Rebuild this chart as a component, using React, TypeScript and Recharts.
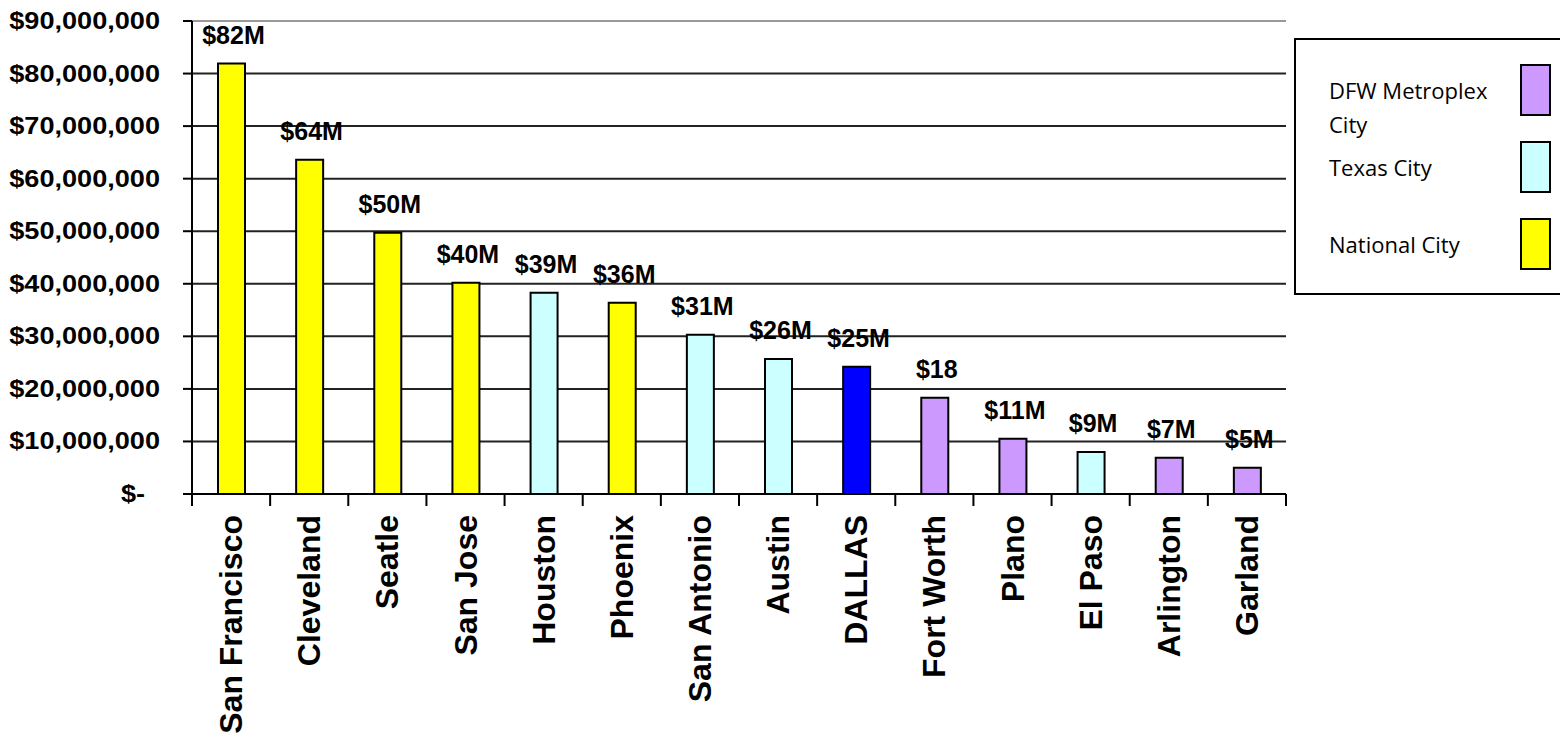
import React from 'react'
import { BarChart, Bar, XAxis, YAxis, CartesianGrid, Cell, LabelList, ReferenceLine } from 'recharts'

const cities = [
  'San Francisco', 'Cleveland', 'Seatle', 'San Jose', 'Houston', 'Phoenix', 'San Antonio',
  'Austin', 'DALLAS', 'Fort Worth', 'Plano', 'El Paso', 'Arlington', 'Garland',
]
const amounts = [
  81.9e6, 63.6e6, 49.7e6, 40.2e6, 38.3e6, 36.4e6, 30.3e6,
  25.7e6, 24.2e6, 18.3e6, 10.5e6, 8.0e6, 6.9e6, 5.0e6,
]
const amountLabels = [
  '$82M', '$64M', '$50M', '$40M', '$39M', '$36M', '$31M',
  '$26M', '$25M', '$18', '$11M', '$9M', '$7M', '$5M',
]
const cityTypes = [
  'national', 'national', 'national', 'national', 'texas', 'national', 'texas',
  'texas', 'dallas', 'dfw', 'dfw', 'texas', 'dfw', 'dfw',
]
const yTicks = [0, 10e6, 20e6, 30e6, 40e6, 50e6, 60e6, 70e6, 80e6, 90e6]

const legendLabels = ['DFW Metroplex City', 'Texas City', 'National City']
const legendColors = ['#CC99FF', '#CCFFFF', '#FFFF00']

const typeColors: Record<string, string> = {
  dfw: '#CC99FF',
  texas: '#CCFFFF',
  national: '#FFFF00',
  dallas: '#0000FF',
}

const W = 1560
const H = 735
const M = { top: 21, right: 274, left: 0, bottom: 0 }
const Y_AXIS_W = 192
const PLOT_W = W - M.right - Y_AXIS_W
const BAND = PLOT_W / cities.length
const boldFont = '"Liberation Sans", Arial, sans-serif'

const data = cities.map((city, i) => ({
  city,
  amount: amounts[i],
  label: amountLabels[i],
  type: cityTypes[i],
}))

function fmtMoney(v: number) {
  if (v === 0) return '$-'
  return '$' + v.toLocaleString('en-US')
}

function YTick(props: any) {
  const { x, y, payload } = props
  const zero = payload.value === 0
  return (
    <g transform={`translate(${zero ? x - 15 : x},${y}) scale(1.13,1)`}>
      <text x={0} y={0} dy={8} textAnchor="end" fontFamily={boldFont} fontWeight="bold" fontSize={24} fill="#000">
        {fmtMoney(payload.value)}
      </text>
    </g>
  )
}

function XTick(props: any) {
  const { x, y, payload, index } = props
  const last = index === cities.length - 1
  return (
    <g>
      <line x1={x - BAND / 2} x2={x - BAND / 2} y1={y} y2={y + 12} stroke="#000" strokeWidth={2} />
      {last && <line x1={x + BAND / 2} x2={x + BAND / 2} y1={y} y2={y + 12} stroke="#000" strokeWidth={2} />}
      <text
        transform={`translate(${x + 11},${y + 21}) rotate(-90)`}
        textAnchor="end"
        fontFamily={boldFont}
        fontWeight="bold"
        fontSize={32}
        fill="#000"
      >
        {payload.value}
      </text>
    </g>
  )
}

function BarLabel(props: any) {
  const { x, y, width, value } = props
  return (
    <text
      x={x + width / 2 + 2}
      y={y - 20}
      textAnchor="middle"
      fontFamily={boldFont}
      fontWeight="bold"
      fontSize={25}
      fill="#000"
    >
      {value}
    </text>
  )
}

function LegendBox() {
  return (
    <div
      style={{
        position: 'absolute',
        left: 1294,
        top: 38,
        width: W - 1294,
        height: 257,
        boxSizing: 'border-box',
        border: '2px solid #000',
        borderRight: 'none',
        background: '#fff',
        fontFamily: '"Open Sans", "Noto Sans", sans-serif',
        fontSize: 22,
        color: '#000',
      }}
    >
      {legendLabels.map((lbl, i) => (
        <div key={lbl} style={{ position: 'absolute', left: 0, top: 24 + i * 77, width: '100%', height: 52 }}>
          <div style={{ position: 'absolute', left: 33, top: 9, width: 185, lineHeight: '34px' }}>{lbl}</div>
          <div
            style={{
              position: 'absolute',
              left: 224,
              top: 0,
              width: 31,
              height: 52,
              boxSizing: 'border-box',
              border: '2px solid #000',
              background: legendColors[i],
            }}
          />
        </div>
      ))}
    </div>
  )
}

export default function App() {
  return (
    <div style={{ position: 'absolute', left: 0, top: 0, width: W, height: H, overflow: 'hidden', background: '#fff' }}>
      <BarChart width={W} height={H} data={data} margin={M} barSize={27}>
        <CartesianGrid yAxisId="left" horizontal vertical={false} stroke="#222" strokeWidth={2} />
        <XAxis
          dataKey="city"
          interval={0}
          height={H - M.top - 473}
          axisLine={{ stroke: '#000', strokeWidth: 2 }}
          tickLine={false}
          tickSize={0}
          tickMargin={0}
          tick={<XTick />}
        />
        <YAxis
          yAxisId="left"
          width={Y_AXIS_W}
          domain={[0, 90e6]}
          ticks={yTicks}
          interval={0}
          axisLine={{ stroke: '#000', strokeWidth: 2 }}
          tickLine={{ stroke: '#000', strokeWidth: 2 }}
          tickSize={9}
          tickMargin={23}
          tick={<YTick />}
        />
        <YAxis
          yAxisId="right"
          orientation="right"
          width={0}
          domain={[0, 90e6]}
          tick={false}
          axisLine={{ stroke: '#999', strokeWidth: 2 }}
          tickLine={false}
        />
        <ReferenceLine yAxisId="left" y={90e6} stroke="#999" strokeWidth={2} />
        <Bar yAxisId="left" dataKey="amount" stroke="#000" strokeWidth={2} isAnimationActive={false}>
          {data.map((d) => (
            <Cell key={d.city} fill={typeColors[d.type]} />
          ))}
          <LabelList dataKey="label" content={<BarLabel />} />
        </Bar>
      </BarChart>
      <LegendBox />
    </div>
  )
}
